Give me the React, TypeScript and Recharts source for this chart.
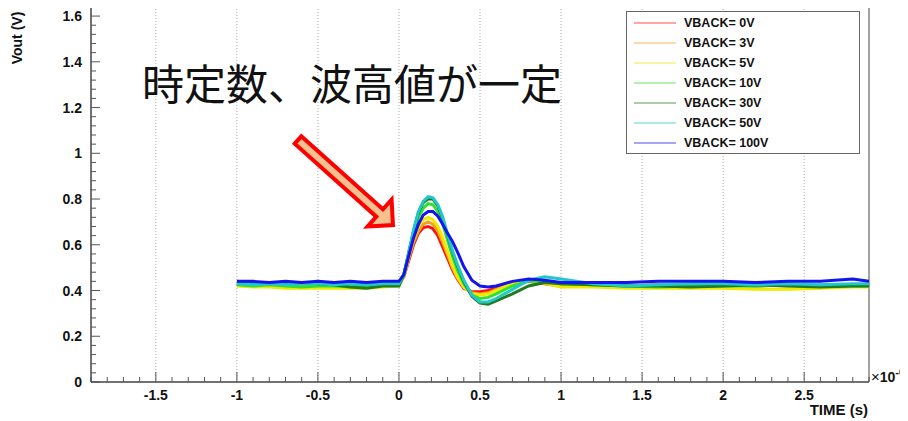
import React from 'react';
import { LineChart, Line, XAxis, YAxis, CartesianGrid, ReferenceArea, Legend } from 'recharts';

// time axis in microseconds (axis shows x10^-6 s)
const times = [
  -1.0, -0.9, -0.8, -0.7, -0.6, -0.5, -0.4, -0.3, -0.2, -0.1,
  0, 0.03, 0.06, 0.09, 0.12, 0.15, 0.18, 0.21, 0.24, 0.27, 0.3, 0.33, 0.36, 0.4, 0.45, 0.5, 0.55, 0.6, 0.7, 0.8, 0.9, 1.0,
  1.2, 1.4, 1.6, 1.8, 2.0, 2.2, 2.4, 2.6, 2.8, 2.9,
];

const vback0 = [
  0.43, 0.425, 0.43, 0.425, 0.42, 0.425, 0.42, 0.425, 0.42, 0.425,
  0.43, 0.46, 0.53, 0.6, 0.65, 0.675, 0.68, 0.67, 0.64, 0.59, 0.54, 0.49, 0.45, 0.41, 0.395, 0.395, 0.4, 0.41, 0.43, 0.44, 0.43, 0.42,
  0.425, 0.42, 0.425, 0.42, 0.425, 0.42, 0.425, 0.42, 0.425, 0.425,
];
const vback3 = [
  0.425, 0.43, 0.425, 0.42, 0.425, 0.42, 0.425, 0.42, 0.425, 0.43,
  0.43, 0.46, 0.54, 0.61, 0.66, 0.69, 0.7, 0.69, 0.66, 0.61, 0.555, 0.5, 0.455, 0.415, 0.39, 0.385, 0.39, 0.405, 0.43, 0.445, 0.435, 0.425,
  0.42, 0.425, 0.42, 0.42, 0.425, 0.425, 0.42, 0.425, 0.42, 0.42,
];
const vback5 = [
  0.42, 0.415, 0.415, 0.41, 0.41, 0.41, 0.41, 0.41, 0.41, 0.415,
  0.42, 0.46, 0.545, 0.625, 0.68, 0.71, 0.72, 0.71, 0.68, 0.63, 0.57, 0.51, 0.46, 0.415, 0.385, 0.38, 0.385, 0.4, 0.43, 0.445, 0.43, 0.415,
  0.415, 0.41, 0.41, 0.41, 0.41, 0.405, 0.405, 0.41, 0.415, 0.415,
];
const vback10 = [
  0.425, 0.42, 0.425, 0.42, 0.415, 0.42, 0.42, 0.415, 0.42, 0.425,
  0.425, 0.465, 0.56, 0.65, 0.72, 0.76, 0.78, 0.775, 0.745, 0.69, 0.62, 0.55, 0.49, 0.43, 0.38, 0.365, 0.37, 0.385, 0.42, 0.44, 0.44, 0.43,
  0.425, 0.42, 0.415, 0.42, 0.42, 0.42, 0.425, 0.42, 0.42, 0.42,
];
const vback30 = [
  0.43, 0.435, 0.43, 0.435, 0.435, 0.43, 0.425, 0.415, 0.41, 0.42,
  0.42, 0.47, 0.565, 0.66, 0.74, 0.785, 0.8, 0.8, 0.77, 0.715, 0.64, 0.57, 0.51, 0.44, 0.375, 0.345, 0.34, 0.355, 0.385, 0.42, 0.435, 0.43,
  0.425, 0.42, 0.42, 0.415, 0.42, 0.425, 0.42, 0.415, 0.42, 0.42,
];
const vback50 = [
  0.43, 0.425, 0.43, 0.425, 0.43, 0.43, 0.425, 0.43, 0.425, 0.43,
  0.43, 0.47, 0.565, 0.665, 0.745, 0.79, 0.81, 0.805, 0.775, 0.72, 0.645, 0.575, 0.515, 0.445, 0.38, 0.35, 0.35, 0.365, 0.405, 0.445, 0.46, 0.45,
  0.43, 0.42, 0.425, 0.43, 0.43, 0.425, 0.43, 0.425, 0.43, 0.43,
];
const vback100 = [
  0.44, 0.44, 0.435, 0.44, 0.435, 0.44, 0.435, 0.44, 0.435, 0.44,
  0.44, 0.47, 0.55, 0.63, 0.69, 0.73, 0.745, 0.745, 0.725, 0.69, 0.65, 0.615, 0.57, 0.505, 0.445, 0.42, 0.415, 0.42, 0.44, 0.45, 0.445, 0.435,
  0.435, 0.435, 0.44, 0.44, 0.44, 0.435, 0.44, 0.44, 0.45, 0.44,
];

const seriesNames = ['VBACK= 0V', 'VBACK= 3V', 'VBACK= 5V', 'VBACK= 10V', 'VBACK= 30V', 'VBACK= 50V', 'VBACK= 100V'];
const seriesKeys = ['v0', 'v3', 'v5', 'v10', 'v30', 'v50', 'v100'];
const seriesColors = ['#ff1010', '#f0a020', '#f0e800', '#30e030', '#207a20', '#20c8c8', '#1414f0'];
const seriesValues = [vback0, vback3, vback5, vback10, vback30, vback50, vback100];

const xMajorTicks = [-1.5, -1, -0.5, 0, 0.5, 1, 1.5, 2, 2.5];
const xMinorTicks = Array.from({ length: 49 }, (_, i) => Math.round((-1.9 + i * 0.1) * 10) / 10);
const yMinorTicks = Array.from({ length: 42 }, (_, i) => Math.round(i * 4) / 100);

const X_MIN = -1.9;
const X_MAX = 2.9;
const Y_MAX = 1.644;

const data = times.map((t, i) => {
  const row: any = { t };
  seriesKeys.forEach((k, s) => { row[k] = seriesValues[s][i]; });
  return row;
});

const FONT = '"Liberation Sans", Arial, sans-serif';

const isMajorX = (v: number) => Math.abs(v * 2 - Math.round(v * 2)) < 1e-6;
const isMajorY = (v: number) => Math.abs(v * 5 - Math.round(v * 5)) < 1e-6;

const fmt = (v: number) => String(Math.round(v * 10) / 10);

const XTick = (props: any) => {
  const { x, y, payload } = props;
  const major = isMajorX(payload.value);
  return (
    <g>
      <line x1={x} y1={y} x2={x} y2={y - (major ? 10 : 5)} stroke="#555" strokeWidth={1} />
      {major && (
        <text x={x} y={y + 18} textAnchor="middle" fontFamily={FONT} fontWeight="bold" fontSize={14} fill="#111">
          {fmt(payload.value)}
        </text>
      )}
    </g>
  );
};

const YTick = (props: any) => {
  const { x, y, payload } = props;
  const major = isMajorY(payload.value);
  return (
    <g>
      <line x1={x} y1={y} x2={x + (major ? 9 : 5)} y2={y} stroke="#555" strokeWidth={1} />
      {major && (
        <text x={x - 9} y={y + 5} textAnchor="end" fontFamily={FONT} fontWeight="bold" fontSize={14} fill="#111">
          {fmt(payload.value)}
        </text>
      )}
    </g>
  );
};

const LegendBox = () => (
  <div style={{ width: 232, height: 141, border: '1px solid #666', background: '#fff', position: 'relative' }}>
    {seriesNames.map((name, i) => (
      <div key={name} style={{ position: 'absolute', left: 0, top: 1 + i * 20, height: 20, display: 'flex', alignItems: 'center' }}>
        <svg width={54} height={20}>
          <line x1={7} y1={10} x2={49} y2={10} stroke={seriesColors[i]} strokeOpacity={0.5} strokeWidth={1.5} />
        </svg>
        <span style={{ marginLeft: 3, fontFamily: FONT, fontWeight: 'bold', fontSize: 12.5, color: '#111' }}>{name}</span>
      </div>
    ))}
  </div>
);

export default function App() {
  return (
    <div style={{ position: 'relative', width: 908, height: 421, marginTop: -8, marginLeft: -8, background: '#fff' }}>
      <LineChart width={908} height={421} data={data} margin={{ top: 6, right: 39, bottom: 0, left: 0 }}>
        <CartesianGrid horizontal={false} verticalValues={xMajorTicks} stroke="#aaa" strokeDasharray="1 2" />
        <XAxis
          dataKey="t"
          type="number"
          domain={[X_MIN, X_MAX]}
          allowDataOverflow
          ticks={xMinorTicks}
          interval={0}
          tick={<XTick />}
          tickLine={false}
          tickSize={0}
          tickMargin={0}
          height={39}
          axisLine={{ stroke: '#444' }}
        />
        <YAxis
          type="number"
          domain={[0, Y_MAX]}
          allowDataOverflow
          ticks={yMinorTicks}
          interval={0}
          tick={<YTick />}
          tickLine={false}
          tickSize={0}
          tickMargin={0}
          width={91}
          axisLine={{ stroke: '#444' }}
        />
        <ReferenceArea x1={X_MIN} x2={X_MAX} y1={0} y2={Y_MAX} fill="none" stroke="#444" ifOverflow="visible" />
        {seriesKeys.map((k, s) => (
          <Line
            key={k}
            dataKey={k}
            name={seriesNames[s]}
            type="linear"
            stroke={seriesColors[s]}
            strokeWidth={3}
            dot={false}
            isAnimationActive={false}
          />
        ))}
        <Legend
          layout="vertical"
          align="center"
          verticalAlign="middle"
          content={<LegendBox />}
          wrapperStyle={{ position: 'absolute', left: 626, top: 11, width: 234, height: 143 }}
        />
      </LineChart>
      <svg width={908} height={421} style={{ position: 'absolute', left: 0, top: 0, pointerEvents: 'none' }}>
        <text transform="translate(22,38) rotate(-90)" textAnchor="middle" fontFamily={FONT} fontWeight="bold" fontSize={14} fill="#111">
          Vout (V)
        </text>
        <text x={868} y={415} textAnchor="end" fontFamily={FONT} fontWeight="bold" fontSize={15} fill="#111">
          TIME (s)
        </text>
        <text x={871} y={382} fontFamily={FONT} fontSize={15} fill="#111">
          ×<tspan fontWeight="bold" fontSize={14}>10</tspan>
          <tspan dy={-6} fontSize={11} fontWeight="bold">-6</tspan>
        </text>
        <text x={142} y={100} fontFamily='"Noto Sans CJK JP", sans-serif' fontSize={42} fill="#111">
          時定数、波高値が一定
        </text>
        <polygon
          points="301.3,136.3 382.9,209.3 391.6,199.6 393,225 367.6,226.4 376.3,216.7 294.7,143.7"
          fill="#f8bf8f"
          stroke="#ff0000"
          strokeWidth={4}
          strokeLinejoin="miter"
        />
      </svg>
    </div>
  );
}
